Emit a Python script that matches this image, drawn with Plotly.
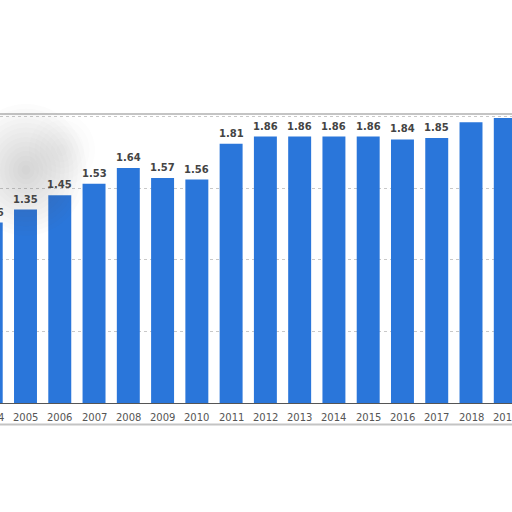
import plotly.graph_objects as go

years = [2004, 2005, 2006, 2007, 2008, 2009, 2010, 2011, 2012, 2013, 2014, 2015, 2016, 2017, 2018, 2019]
values = [1.26, 1.35, 1.45, 1.53, 1.64, 1.57, 1.56, 1.81, 1.86, 1.86, 1.86, 1.86, 1.84, 1.85, 1.96, 1.99]
tick_labels = [str(y) for y in years]
# labels of the last two bars are hidden above the card's top edge in the reference
hidden_label_years = [2018, 2019]

BLUE = "#2a76da"

fig = go.Figure(go.Bar(
    x=years, y=values, width=0.67,
    marker=dict(color=BLUE, line=dict(width=0)),
    hoverinfo="skip",
))

W, H = 512, 512
top, bottom = 114, 108.5
ph = H - top - bottom
px_per_unit = 143.5
pitch = 34.27
x0 = 2005 - 25.5 / pitch
x1 = x0 + W / pitch


def xpaper(year):
    return (year - x0) / (x1 - x0)


fig.update_layout(
    width=W, height=H,
    margin=dict(l=0, r=0, t=top, b=bottom, pad=0),
    paper_bgcolor="white", plot_bgcolor="white",
    showlegend=False,
    xaxis=dict(range=[x0, x1], showticklabels=False, ticks="",
               showline=True, linecolor="#555555", linewidth=1,
               showgrid=False, zeroline=False, fixedrange=True),
    yaxis=dict(range=[0, ph / px_per_unit], dtick=0.5,
               showticklabels=False, showgrid=True, gridcolor="#c8c8c8",
               griddash="dot", gridwidth=1, zeroline=False, fixedrange=True),
)

# value labels above bars
for yr, v in zip(years, values):
    if yr in hidden_label_years:
        continue
    fig.add_annotation(xref="paper", yref="y", x=xpaper(yr), y=v,
                       text=f"{v:.2f}", showarrow=False, xanchor="center",
                       yanchor="bottom", yshift=3,
                       font=dict(family="DejaVu Sans", size=10, color="#444444", weight="bold"))

# category labels under the axis (including the partly cut-off edge years)
for yr, t in zip(years, tick_labels):
    fig.add_annotation(xref="paper", yref="paper", x=xpaper(yr), y=0,
                       text=t, showarrow=False, xanchor="center",
                       yanchor="top", yshift=-7,
                       font=dict(family="DejaVu Sans", size=10, color="#555555"))

# card frame (thin grey border)
fig.add_shape(type="rect", xref="paper", yref="paper",
              x0=-0.01, x1=1.01, y0=-21.5 / ph, y1=1.0,
              line=dict(color="#c4c4c4", width=2), fillcolor="rgba(0,0,0,0)", layer="above")


# soft blurred region (approximation with many faint concentric ellipses)
def blob(cx, cy, rmax, steps, alpha):
    for i in range(steps):
        r = rmax * (1 - i / steps)
        fig.add_shape(type="circle", xref="paper", yref="paper",
                      x0=(cx - r * 1.1) / W, x1=(cx + r * 1.1) / W,
                      y0=(H - bottom - (cy + r * 1.2)) / ph,
                      y1=(H - bottom - (cy - r * 1.2)) / ph,
                      line=dict(width=0), fillcolor=f"rgba(110,110,110,{alpha})", layer="above")


blob(26, 170, 55, 14, 0.02)
blob(62, 150, 30, 6, 0.012)

fig.write_html("out.html", config={"displayModeBar": False},
               post_script="document.body.style.margin='0';document.body.style.overflow='hidden';")
